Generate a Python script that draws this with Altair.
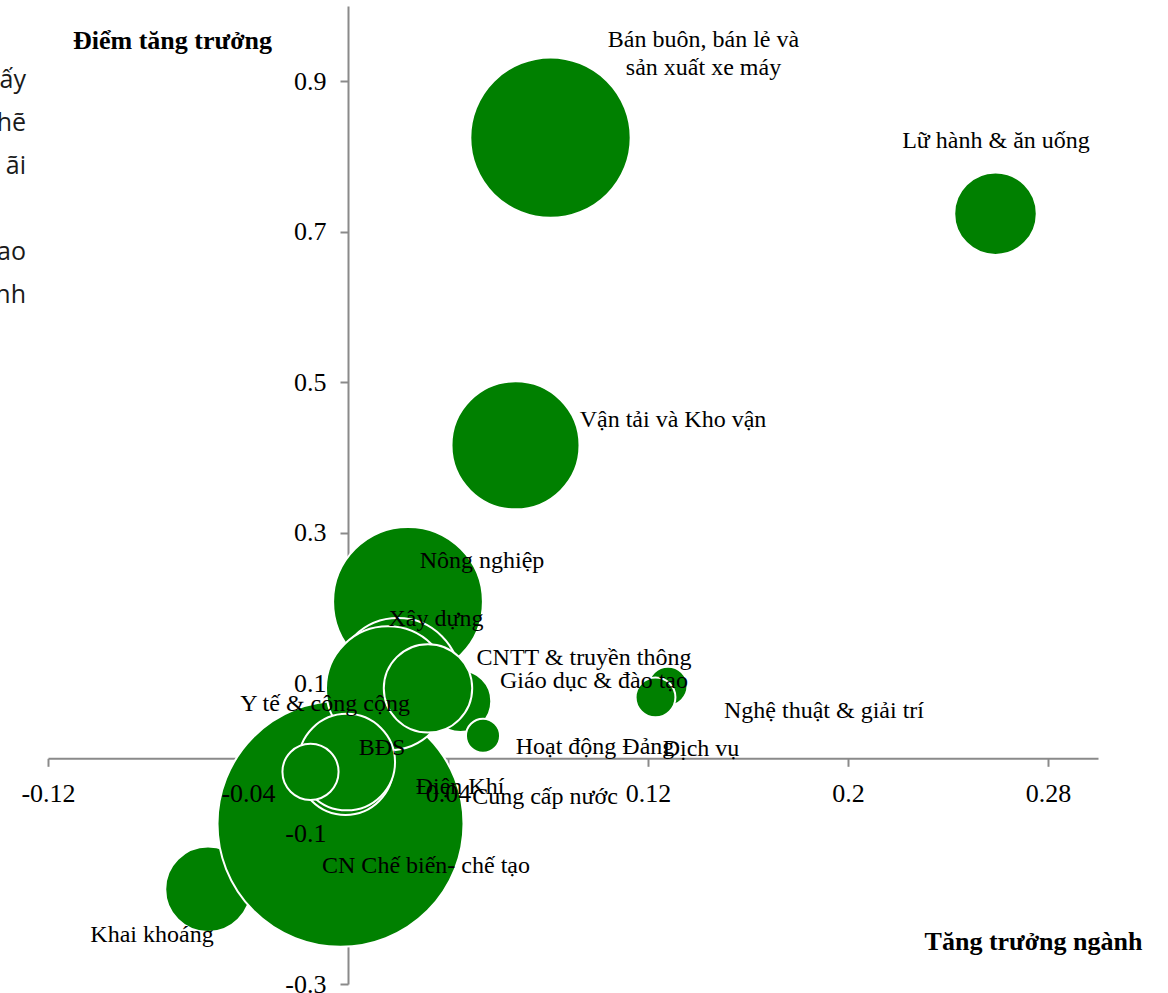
import altair as alt
import pandas as pd

# Sectors, listed in drawing order (back to front)
sectors = [
    "Khai khoáng",
    "CN Chế biến- chế tạo",
    "Nông nghiệp",
    "Giáo dục & đào tạo",
    "Hoạt động Đảng",
    "Xây dựng",
    "BĐS",
    "Điện Khí",
    "Y tế & công cộng",
    "Cung cấp nước",
    "CNTT & truyền thông",
    "Vận tải và Kho vận",
    "Bán buôn, bán lẻ và\nsản xuất xe máy",
    "Lữ hành & ăn uống",
    "Dịch vụ",
    "Nghệ thuật & giải trí",
]

# Tăng trưởng ngành (x)
growth = [-0.056, -0.003, 0.024, 0.045, 0.054, 0.020, 0.016, -0.001,
          -0.0005, -0.015, 0.032, 0.067, 0.081, 0.259, 0.128, 0.123]

# Điểm tăng trưởng (y)
score = [-0.174, -0.087, 0.208, 0.076, 0.030, 0.104, 0.093, -0.012,
         -0.005, -0.018, 0.093, 0.416, 0.825, 0.724, 0.096, 0.081]

# Sector weight, drives bubble area
weight = [2.9, 24.0, 8.9, 1.5, 0.46, 6.1, 6.1, 3.6,
          3.7, 1.25, 3.1, 6.5, 10.2, 2.7, 0.6, 0.63]

# Where each sector name is written (first line), in data units
label_x = [-0.0784, 0.0312, 0.0536, 0.0984, 0.0988, 0.0352, 0.0136, 0.0448,
           -0.0092, 0.0788, 0.0944, 0.130, 0.1422, 0.2592, 0.1412, 0.1904]
label_y = [-0.2349, -0.1432, 0.2623, 0.1028, 0.0150, 0.1852, 0.0137, -0.0381,
           0.0722, -0.0514, 0.1333, 0.4497, 0.9548, 0.8205, 0.0124, 0.0629]

x_ticks = [-0.12, -0.04, 0.04, 0.12, 0.2, 0.28]
y_ticks = [-0.3, -0.1, 0.1, 0.3, 0.5, 0.7, 0.9]

# Clipped text of the neighbouring page column, two paragraphs
side_par1 = ["ấy", "hẽ", "ãi"]
side_par2 = ["ao", "nh"]

df = pd.DataFrame({
    "sector": sectors,
    "growth": growth,
    "score": score,
    "weight": weight,
    "label_x": label_x,
    "label_y": label_y,
    "draw": list(range(len(sectors))),
})

W, H = 1050, 978
X_DOMAIN = [-0.12, 0.30]
Y_DOMAIN = [-0.3, 1.0]
PAD_LEFT, PAD_TOP = 48, 6

# axes cross at the origin
left_off = -(0 - X_DOMAIN[0]) / (X_DOMAIN[1] - X_DOMAIN[0]) * W
bottom_off = -(0 - Y_DOMAIN[0]) / (Y_DOMAIN[1] - Y_DOMAIN[0]) * H
x0_px = -left_off
y0_px = H + bottom_off

GREY = "#8a8a8a"
SERIF = "Liberation Serif"
GREEN = "#008000"
MAX_R = 123  # radius of the largest bubble, px

x_scale = alt.Scale(domain=X_DOMAIN, nice=False, zero=False)
y_scale = alt.Scale(domain=Y_DOMAIN, nice=False, zero=False)

# axis lines and ticks sit behind the bubbles
x_line_axis = alt.Axis(values=x_ticks, labels=False, title=None, grid=False,
                       domainColor=GREY, domainWidth=2, tickColor=GREY,
                       tickWidth=2, tickSize=8, offset=bottom_off, zindex=0,
                       orient="bottom")
y_line_axis = alt.Axis(values=y_ticks, labels=False, title=None, grid=False,
                       domainColor=GREY, domainWidth=2, tickColor=GREY,
                       tickWidth=2, tickSize=8, offset=left_off, zindex=0,
                       orient="left")

# tick labels and titles are drawn on top
x_text_axis = alt.Axis(values=x_ticks, domain=False, ticks=False, tickSize=0,
                       grid=False, labelPadding=22, labelFont=SERIF,
                       labelFontSize=26, labelColor="black",
                       labelExpr="'' + datum.value", labelFlush=False,
                       labelOverlap=False, offset=bottom_off, zindex=1,
                       orient="bottom",
                       title="Tăng trưởng ngành", titleFont=SERIF,
                       titleFontSize=26, titleFontWeight="bold",
                       titleColor="black", titleAngle=0, titleAlign="center",
                       titleBaseline="middle",
                       titleX=1033 - PAD_LEFT, titleY=941 - PAD_TOP - y0_px)
y_text_axis = alt.Axis(values=y_ticks, domain=False, ticks=False, tickSize=0,
                       grid=False, labelPadding=22, labelFont=SERIF,
                       labelFontSize=26, labelColor="black",
                       labelExpr="'' + datum.value", labelFlush=False,
                       labelOverlap=False, offset=left_off, zindex=1,
                       orient="left",
                       title="Điểm tăng trưởng", titleFont=SERIF,
                       titleFontSize=26, titleFontWeight="bold",
                       titleColor="black", titleAngle=0, titleAlign="center",
                       titleBaseline="middle",
                       titleX=172 - PAD_LEFT - x0_px, titleY=40 - PAD_TOP)

# Vega sizes a circle by the area of its bounding square: (2r)^2
bubbles = alt.Chart(df).mark_circle(
    opacity=1, color=GREEN, stroke="white", strokeWidth=2
).encode(
    x=alt.X("growth:Q", scale=x_scale, axis=x_line_axis),
    y=alt.Y("score:Q", scale=y_scale, axis=y_line_axis),
    size=alt.Size("weight:Q", legend=None,
                  scale=alt.Scale(type="linear", domain=[0, 24],
                                  range=[0, (2 * MAX_R) ** 2])),
    order=alt.Order("draw:Q"),
)

labels = alt.Chart(df).mark_text(
    font=SERIF, fontSize=24, color="black", align="center",
    baseline="middle", lineBreak="\n", lineHeight=28
).encode(
    x=alt.X("label_x:Q", scale=x_scale, axis=x_text_axis),
    y=alt.Y("label_y:Q", scale=y_scale, axis=y_text_axis),
    text="sector:N",
)

SIDE_LH = 43


def side_block(lines, first_baseline):
    return alt.Chart(pd.DataFrame({"t": ["\n".join(lines)]})).mark_text(
        font="Open Sans", fontSize=25, color="#1a1a1a", align="right",
        baseline="alphabetic", lineBreak="\n", lineHeight=SIDE_LH
    ).encode(
        x=alt.value(26 - PAD_LEFT),
        y=alt.value(first_baseline - PAD_TOP),
        text="t:N",
    )


side1 = side_block(side_par1, 88)
side2 = side_block(side_par2, 88 + (len(side_par1) + 1) * SIDE_LH)

chart = alt.layer(bubbles, labels, side1, side2).resolve_axis(
    x="independent", y="independent"
).properties(
    width=W, height=H,
    autosize=alt.AutoSizeParams(type="none"),
    padding={"left": PAD_LEFT, "top": PAD_TOP, "right": 70, "bottom": 9},
    background="white",
).configure_view(stroke=None)

chart.save("out.html", embed_options={"renderer": "svg", "actions": False})
